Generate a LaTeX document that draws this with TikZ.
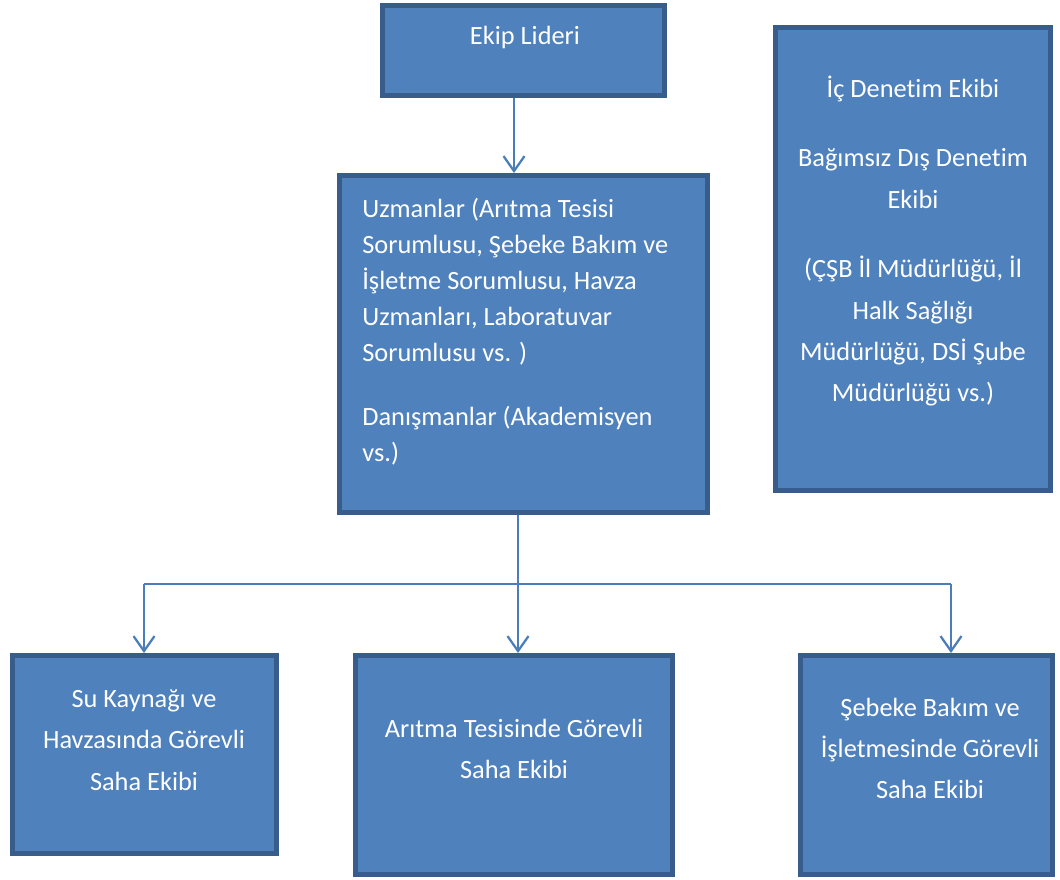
\documentclass[tikz,border=0pt]{standalone}
\usepackage{fontspec}
\setmainfont{Carlito}[Ligatures=CommonOff]
\usepackage{xcolor}
\usepackage{tikz}
\usetikzlibrary{arrows.meta,positioning}

\definecolor{kutumavi}{HTML}{4F81BD}
\definecolor{kenarmavi}{HTML}{385D8A}
\definecolor{okmavi}{HTML}{4A7EBB}

\begin{document}
\begin{tikzpicture}[x=0.02cm,y=-0.02cm,
                    kutu/.style 2 args={rectangle,draw=kenarmavi,fill=kutumavi,
                    line width=0.1cm,
                    minimum width=#1cm,
                    minimum height=#2cm},
                    yazi/.style={text=white,inner sep=0pt,
                    font=\fontsize{15}{20.5}\selectfont},
                    genis/.style={font=\fontsize{15}{23.5}\selectfont},
                    hat/.style={draw=okmavi,line width=0.045cm},
                    ok/.style={hat,-{Straight Barb[length=0.3cm,width=0.42cm]}}]
    \useasboundingbox (0,0) rectangle (1060,879);

    \node[kutu={5.64}{1.8}](lider) at (523.5,50.5) {};
    \node[kutu={7.36}{6.74}](uzman) at (523.5,344) {};
    \node[kutu={5.5}{9.26}](denetim) at (913,259) {};
    \node[kutu={5.28}{3.96}](saha1) at (144.5,754.5) {};
    \node[kutu={6.34}{4.38}](saha2) at (514,765) {};
    \node[kutu={5.04}{4.38}](saha3) at (926.5,765) {};

    \node[yazi](liderYazi) at (525,37) {Ekip Lideri};
    \node[yazi,anchor=west,align=left](uzmanYazi) at (362,331.5)
        {Uzmanlar (Arıtma Tesisi\\Sorumlusu, Şebeke Bakım ve\\İşletme Sorumlusu, Havza\\
         Uzmanları, Laboratuvar\\Sorumlusu vs. )\\[0.57cm]Danışmanlar (Akademisyen\\vs.)};
    \node[yazi,genis,align=center](denetimYazi) at (913,241)
        {İç Denetim Ekibi\\[0.57cm]Bağımsız Dış Denetim\\Ekibi\\[0.57cm]
         (ÇŞB İl Müdürlüğü, İl\\Halk Sağlığı\\Müdürlüğü, DSİ Şube\\Müdürlüğü vs.)};
    \node[yazi,genis,align=center](saha1Yazi) at (144,740)
        {Su Kaynağı ve\\Havzasında Görevli\\Saha Ekibi};
    \node[yazi,genis,align=center](saha2Yazi) at (514,749)
        {Arıtma Tesisinde Görevli\\Saha Ekibi};
    \node[yazi,genis,align=center](saha3Yazi) at (930,748.5)
        {Şebeke Bakım ve\\İşletmesinde Görevli\\Saha Ekibi};

    \coordinate (kol) at (518,584);
    \coordinate (solkol) at (144,584);
    \coordinate (sagkol) at (951,584);

    \draw[ok] ([xshift=-0.19cm]lider.south) -- ([xshift=-0.19cm]uzman.north);
    \draw[hat] (uzman.south -| kol) -- (kol);
    \draw[hat] (solkol) -- (sagkol);
    \draw[ok] (kol) -- (kol |- saha2.north);
    \draw[ok] (solkol) -- (solkol |- saha1.north);
    \draw[ok] (sagkol) -- (sagkol |- saha3.north);
\end{tikzpicture}
\end{document}
